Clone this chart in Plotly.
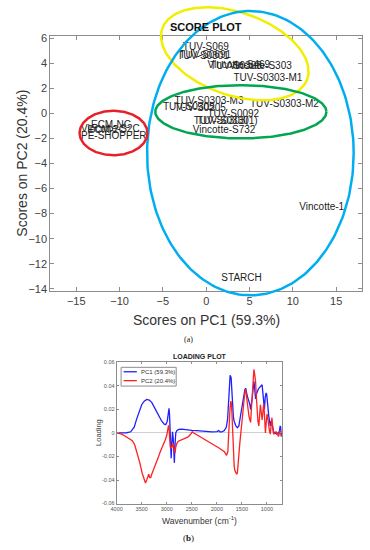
import numpy as np
import plotly.graph_objects as go

W, H = 370, 550

# ---------------- Score plot data ----------------
score_labels = ["TUV-S069", "TUV-S0691", "TUV-S0301", "Vincotte-S469", "TUV-S0303",
                "Vincotte-S303", "TUV-S0303-M1", "TUV-S0303-M3", "TUV-S0303-M2",
                "TUV-S0305", "TUV-S0205", "TUV-S0092", "TUV-S0303(1)", "TUV-S0330",
                "Vincotte-S732", "ECM-NC", "Vincotte-S2C", "ECM-2C", "PE-SHOPPER",
                "Vincotte-1", "STARCH"]
score_pc1 = [-2.7, -3.1, -3.35, 0.15, 0.45, 2.65, 3.15, -3.65, 5.05,
             -5.0, -3.7, 0.15, -1.45, -1.05, -1.55, -13.3, -14.45, -13.7, -14.45,
             10.75, 1.75]
score_pc2 = [5.27, 4.61, 4.53, 3.83, 3.70, 3.76, 2.78, 0.96, 0.69,
             0.43, 0.40, -0.09, -0.69, -0.62, -1.40, -1.00, -1.27, -1.35, -1.87,
             -7.49, -13.2]

# group ellipses (centre in score units, semi-axes in screen px, tilt deg)
ellipse_color = ["#F2EE00", "#00AEEF", "#00A651", "#E8202A"]
ellipse_cx = [3.3, 5.1, 4.0, -10.7]
ellipse_cy = [4.75, -3.18, 0.12, -1.57]
ellipse_a = [78, 105, 87, 34.5]
ellipse_b = [42, 144, 27, 22.5]
ellipse_tilt = [19, 0, 0, 0]

# ---------------- Loading plot data ----------------
pc1_wn = [4000, 3900, 3800, 3720, 3650, 3600, 3550, 3500, 3450, 3400, 3350, 3300, 3250, 3200,
          3150, 3100, 3050, 3020, 2990, 2965, 2955, 2945, 2930, 2920, 2912, 2900, 2885, 2870,
          2855, 2848, 2835, 2820, 2800, 2760, 2700, 2650, 2600, 2500, 2400, 2300, 2200, 2100,
          2000, 1965, 1940, 1900, 1850, 1810, 1785, 1765, 1752, 1735, 1715, 1700, 1687, 1670,
          1654, 1620, 1590, 1560, 1530, 1510, 1490, 1470, 1457, 1440, 1425, 1410, 1395, 1375,
          1358, 1340, 1325, 1310, 1293, 1275, 1260, 1245, 1227, 1210, 1195, 1175, 1162, 1145,
          1130, 1110, 1096, 1085, 1075, 1060, 1050, 1035, 1017, 1005, 998, 980, 965, 950, 933,
          915, 900, 885, 867, 840, 820, 801, 780, 768, 750, 735, 725, 715, 705, 700]
pc1_val = [0.0, 0.0, 0.0002, 0.001, 0.005, 0.012, 0.019, 0.024, 0.027, 0.0285, 0.028, 0.026,
           0.022, 0.018, 0.014, 0.010, 0.0075, 0.007, 0.010, 0.018, 0.021, 0.016, 0.0, -0.015,
           -0.0215, -0.01, 0.001, -0.005, -0.02, -0.0254, -0.01, 0.0, 0.002, 0.003, 0.0032,
           0.0028, 0.0025, 0.0022, 0.002, 0.0015, 0.0012, 0.001, 0.0012, 0.002, 0.001, 0.001,
           0.002, 0.005, 0.012, 0.03, 0.040, 0.049, 0.047, 0.035, 0.024, 0.014, 0.01, 0.006,
           0.0045, 0.006, 0.014, 0.02, 0.024, 0.030, 0.035, 0.037, 0.038, 0.034, 0.032, 0.029,
           0.027, 0.024, 0.02, 0.024, 0.030, 0.038, 0.044, 0.038, 0.029, 0.033, 0.036, 0.037,
           0.038, 0.039, 0.040, 0.041, 0.041, 0.036, 0.030, 0.022, 0.020, 0.03, 0.034, 0.033,
           0.031, 0.022, 0.015, 0.01, 0.006, 0.01, 0.009, 0.005, 0.001, 0.0, -0.001, -0.001,
           0.0, 0.0, 0.002, 0.006, 0.005, -0.003, 0.001, -0.002]

pc2_wn = [4000, 3900, 3819, 3750, 3688, 3640, 3590, 3540, 3492, 3460, 3440, 3425, 3400, 3380,
          3360, 3340, 3320, 3300, 3270, 3228, 3195, 3163, 3130, 3098, 3060, 3031, 3000, 2980,
          2965, 2955, 2940, 2930, 2915, 2900, 2885, 2870, 2850, 2835, 2820, 2800, 2770, 2740,
          2690, 2638, 2580, 2540, 2508, 2490, 2460, 2420, 2376, 2343, 2280, 2213, 2150, 2081,
          2010, 1949, 1900, 1850, 1820, 1805, 1790, 1780, 1765, 1752, 1735, 1720, 1710, 1700,
          1685, 1673, 1660, 1654, 1640, 1622, 1605, 1590, 1575, 1555, 1540, 1523, 1505, 1490,
          1475, 1457, 1440, 1425, 1410, 1395, 1375, 1358, 1340, 1325, 1310, 1293, 1275, 1260,
          1245, 1227, 1210, 1195, 1180, 1162, 1145, 1130, 1115, 1096, 1080, 1063, 1045, 1030,
          1015, 998, 980, 965, 950, 933, 915, 900, 885, 867, 840, 820, 801, 785, 768, 750, 735,
          718, 700]
pc2_val = [0.0, -0.001, -0.003, -0.0045, -0.0065, -0.010, -0.017, -0.025, -0.034, -0.039,
           -0.042, -0.0425, -0.040, -0.036, -0.035, -0.038, -0.038, -0.035, -0.032, -0.028,
           -0.024, -0.020, -0.016, -0.013, -0.009, -0.006, -0.002, 0.002, 0.0065, 0.004,
           -0.008, -0.012, -0.013, -0.011, -0.012, -0.009, -0.014, -0.017, -0.012, -0.009,
           -0.007, -0.0065, -0.006, -0.005, -0.0035, -0.002, 0.0, 0.001, 0.0, -0.001, -0.002,
           -0.003, -0.0045, -0.006, -0.0075, -0.009, -0.011, -0.013, -0.0145, -0.016, -0.018,
           -0.019, -0.017, -0.016, -0.002, 0.011, 0.022, 0.027, 0.025, 0.018, 0.002, -0.014,
           -0.024, -0.028, -0.032, -0.034, -0.035, -0.034, -0.028, -0.017, -0.008, -0.001,
           0.008, 0.014, 0.022, 0.033, 0.035, 0.037, 0.031, 0.024, 0.018, 0.014, 0.011, 0.009,
           0.02, 0.035, 0.048, 0.054, 0.05, 0.044, 0.03, 0.016, 0.01, 0.006, 0.015, 0.024,
           0.018, 0.011, 0.018, 0.025, 0.012, 0.0, 0.008, 0.016, 0.012, 0.005, 0.002, -0.001,
           0.005, 0.013, 0.005, -0.001, 0.0, 0.001, 0.0, -0.002, -0.003, 0.0, 0.002, -0.001,
           -0.003]

series_names = ["PC1 (59.3%)", "PC2 (20.4%)"]
series_colors = ["#1F1FFF", "#FF2020"]

x_ticks_top = [-15, -10, -5, 0, 5, 10, 15]
y_ticks_top = [-14, -12, -10, -8, -6, -4, -2, 0, 2, 4, 6]
wn_ticks = [4000, 3500, 3000, 2500, 2000, 1500, 1000]
load_ticks = [-0.06, -0.04, -0.02, 0, 0.02, 0.04, 0.06]
load_tick_text = ["-0.06", "-0.04", "-0.02", "0", "0.02", "0.04", "0.06"]

# ---------------- layout geometry ----------------
top_xdom = [45 / W, 362 / W]
top_ydom = [1 - 291 / H, 1 - 32 / H]
top_xr = [-18, 18]
top_yr = [-14.2, 6.2]
bot_xdom = [112.5 / W, 280.5 / W]
bot_ydom = [1 - 506 / H, 1 - 363 / H]

# overlay axes (wider vertical domain) so ellipses can spill past the frame
ov_ydom = [0.44, 1.0]
yscale = (top_yr[1] - top_yr[0]) / (top_ydom[1] - top_ydom[0])
ov_yr = [top_yr[0] - (top_ydom[0] - ov_ydom[0]) * yscale,
         top_yr[1] + (ov_ydom[1] - top_ydom[1]) * yscale]
sx = W * (top_xdom[1] - top_xdom[0]) / (top_xr[1] - top_xr[0])  # px per unit
sy = H * (top_ydom[1] - top_ydom[0]) / (top_yr[1] - top_yr[0])

fig = go.Figure()

fig.add_trace(go.Scatter(x=score_pc1, y=score_pc2, text=score_labels, mode="text",
                         textposition="middle right", cliponaxis=False,
                         textfont=dict(family="Arial", size=10, color="#222222"),
                         xaxis="x", yaxis="y", showlegend=False, hoverinfo="skip"))

t = np.linspace(0, 2 * np.pi, 240)
for col, cx, cy, a, b, tilt in zip(ellipse_color, ellipse_cx, ellipse_cy, ellipse_a,
                                   ellipse_b, ellipse_tilt):
    th = np.deg2rad(tilt)
    dx = a * np.cos(t) * np.cos(th) - b * np.sin(t) * np.sin(th)
    dy = a * np.cos(t) * np.sin(th) + b * np.sin(t) * np.cos(th)
    fig.add_trace(go.Scatter(x=cx + dx / sx, y=cy - dy / sy, mode="lines",
                             line=dict(color=col, width=2.5), xaxis="x3", yaxis="y3",
                             showlegend=False, hoverinfo="skip"))

for wn, val, name, col in zip([pc1_wn, pc2_wn], [pc1_val, pc2_val], series_names,
                              series_colors):
    fig.add_trace(go.Scatter(x=wn, y=val, mode="lines", name=name, showlegend=False,
                             line=dict(color=col, width=1.3), xaxis="x2", yaxis="y2"))

axis_common = dict(showgrid=False, showline=True, linecolor="#8C8C8C", linewidth=1,
                   mirror="allticks", ticks="inside", tickcolor="#8C8C8C")

# compact hand-built legend box (Plotly's legend has a larger minimum row height)
leg_x0, leg_x1, leg_y0, leg_y1 = 117 / W, 173 / W, 1 - 387 / H, 1 - 368 / H
shapes = [dict(type="rect", xref="paper", yref="paper", x0=leg_x0, x1=leg_x1,
               y0=leg_y0, y1=leg_y1, line=dict(color="#8C8C8C", width=1),
               fillcolor="white", layer="above")]
annotations = []
for i, (name, col) in enumerate(zip(series_names, series_colors)):
    yy = 1 - (372.5 + 9 * i) / H
    shapes.append(dict(type="line", xref="paper", yref="paper", x0=119.5 / W, x1=133 / W,
                       y0=yy, y1=yy, line=dict(color=col, width=1.3), layer="above"))
    annotations.append(dict(text=name, x=135 / W, y=yy, xref="paper", yref="paper",
                            xanchor="left", yanchor="middle", showarrow=False,
                            font=dict(family="Arial", size=6, color="#333333")))


def label(text, px, py, size, family="Arial", color="#333333", angle=0):
    return dict(text=text, x=px / W, y=1 - py / H, xref="paper", yref="paper",
                xanchor="center", yanchor="middle", showarrow=False, textangle=angle,
                font=dict(family=family, size=size, color=color))


annotations += [
    label("<b>SCORE PLOT</b>", 203, 23, 11, color="#111111"),
    label("Scores on PC1 (59.3%)", 203.5, 320, 14),
    label("Scores on PC2 (20.4%)", 16, 161, 14, angle=-90),
    label("(a)", 185, 340, 8, family="Liberation Serif", color="#222222"),
    label("<b>LOADING PLOT</b>", 197, 357, 7, color="#222222"),
    label("Loading", 94, 434, 7.5, color="#444444", angle=-90),
    label("Wavenumber (cm<sup>-1</sup>)", 197, 523, 8.5),
    label("(<b>b</b>)", 185, 541, 9, family="Liberation Serif", color="#222222"),
]

fig.update_layout(
    width=W, height=H, margin=dict(l=0, r=0, t=0, b=0), showlegend=False,
    paper_bgcolor="white", plot_bgcolor="rgba(0,0,0,0)",
    xaxis=dict(domain=top_xdom, range=top_xr, anchor="y", tickvals=x_ticks_top,
               ticklen=4, tickfont=dict(family="Arial", size=11, color="#404040"),
               zeroline=False, **axis_common),
    yaxis=dict(domain=top_ydom, range=top_yr, anchor="x", tickvals=y_ticks_top,
               ticklen=4, tickfont=dict(family="Arial", size=11, color="#404040"),
               zeroline=False, **axis_common),
    xaxis3=dict(domain=top_xdom, range=top_xr, anchor="y3", visible=False),
    yaxis3=dict(domain=ov_ydom, range=ov_yr, anchor="x3", visible=False),
    xaxis2=dict(domain=bot_xdom, range=[4000, 700], anchor="y2", tickvals=wn_ticks,
                ticklen=2, tickfont=dict(family="Arial", size=5.5, color="#555555"),
                zeroline=False, **axis_common),
    yaxis2=dict(domain=bot_ydom, range=[-0.06, 0.06], anchor="x2", tickvals=load_ticks,
                ticktext=load_tick_text, ticklen=2,
                tickfont=dict(family="Arial", size=5.5, color="#555555"),
                zeroline=True, zerolinecolor="#D0D0D0", zerolinewidth=1, **axis_common),
    shapes=shapes,
    annotations=annotations,
)

fig.write_html("out.html", config={"displayModeBar": False},
               post_script="document.body.style.margin='0';document.body.style.padding='0';")
